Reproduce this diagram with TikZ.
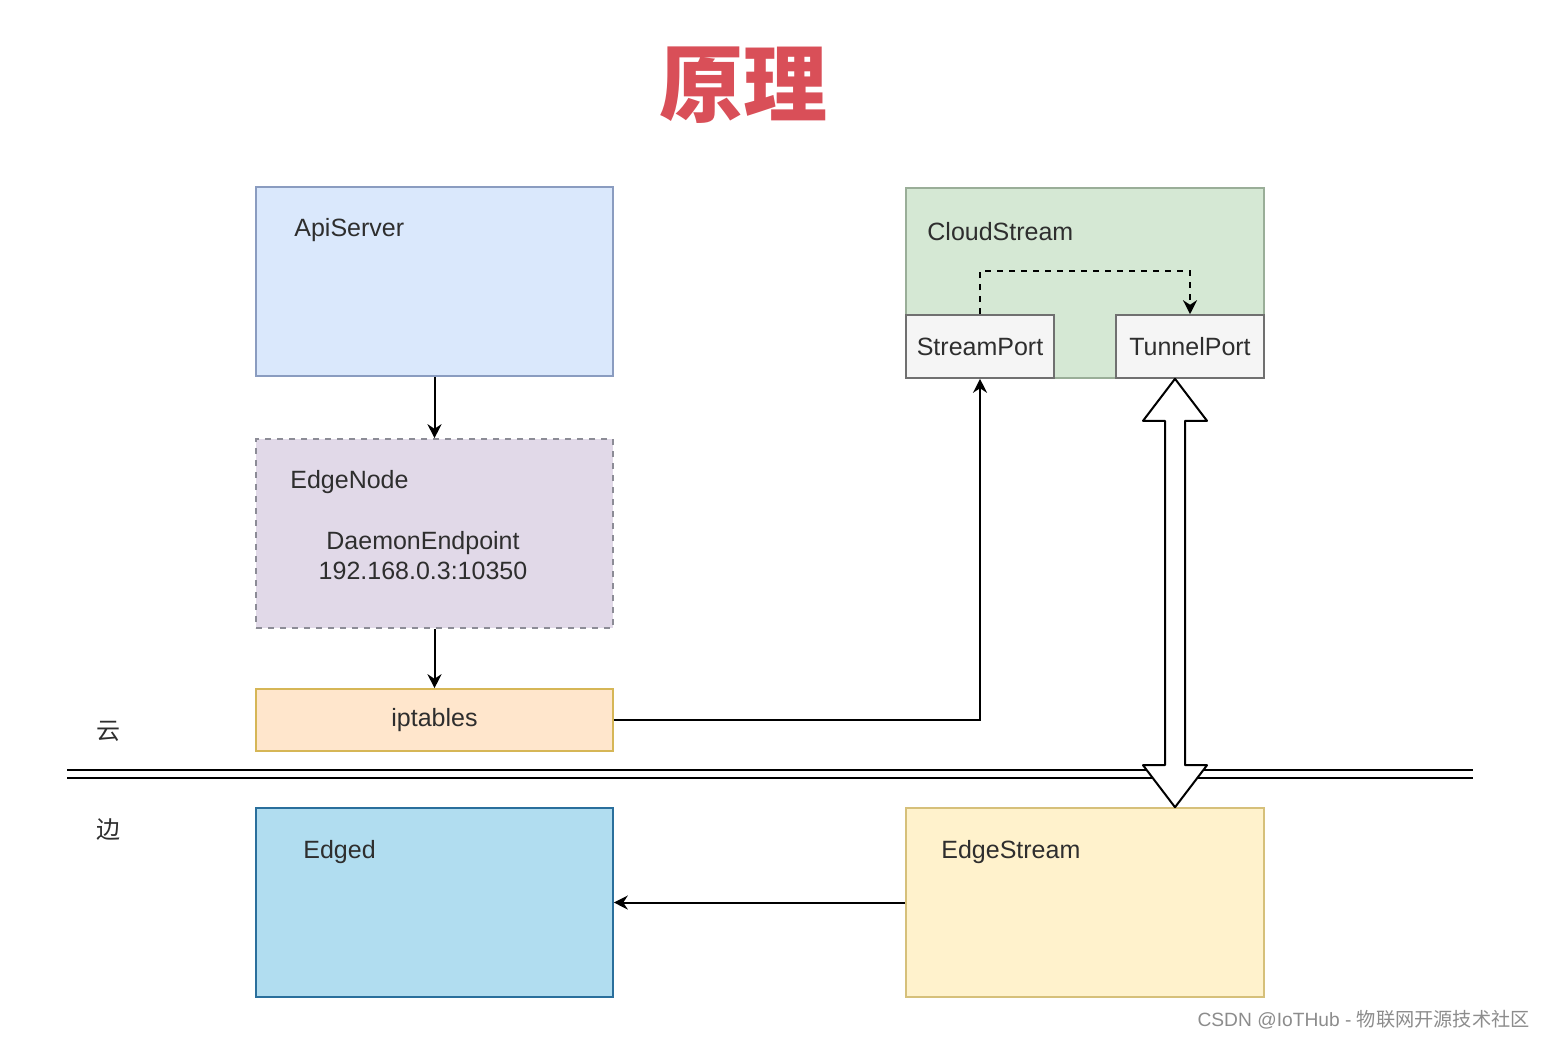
\documentclass[tikz,border=0pt]{standalone}
\usepackage{fontspec}
\setmainfont{Liberation Sans}
\newfontfamily\cjk{Noto Sans CJK SC}
\usetikzlibrary{arrows.meta,calc}
\definecolor{apifill}{HTML}{DAE8FC}\definecolor{apiline}{HTML}{8A9CC0}
\definecolor{nodefill}{HTML}{E1D9E8}\definecolor{nodeline}{HTML}{8C8C96}
\definecolor{iptfill}{HTML}{FFE6CC}\definecolor{iptline}{HTML}{D6B656}
\definecolor{cloudfill}{HTML}{D5E8D4}\definecolor{cloudline}{HTML}{9AAE98}
\definecolor{portfill}{HTML}{F5F5F5}\definecolor{portline}{HTML}{707070}
\definecolor{edgedfill}{HTML}{B1DDF0}\definecolor{edgedline}{HTML}{2A6F9C}
\definecolor{esfill}{HTML}{FFF2CC}\definecolor{esline}{HTML}{D6C07A}
\definecolor{titlered}{HTML}{D94F58}
\definecolor{txt}{HTML}{2E2E2E}
\begin{document}
\begin{tikzpicture}[x=0.5pt, y=-0.5pt, >={Stealth[length=7pt,width=7pt]},
  font=\fontsize{12.5}{15}\selectfont, text=txt,
  box/.style={draw,rectangle,line width=0.8pt,minimum width=178.5pt,minimum height=94.5pt,inner sep=0pt},
  port/.style={draw=portline,fill=portfill,rectangle,line width=0.8pt,minimum width=74pt,minimum height=31.5pt,inner sep=0pt},
  lbl/.style={anchor=west,inner sep=0pt},
  link/.style={line width=1pt},
  flex/.style={draw,fill=white,line width=1pt,line join=round}]
  \useasboundingbox (0,0) rectangle (1545,1039);
  % title
  \node[text=titlered] (ttl) at (743,85) {\fontsize{42}{48}\selectfont\cjk\bfseries 原理};
  % cloud side
  \node[box,fill=apifill,draw=apiline] (api) at (434.5,281.5) {};
  \node[lbl] (apilbl) at (294,230) {ApiServer};
  \node[box,fill=nodefill,draw=nodeline,dashed] (enode) at (434.5,533.5) {};
  \node[lbl] (enodelbl) at (290,482) {EdgeNode};
  \node[align=center,inner sep=0pt] (daemon) at (423,556) {DaemonEndpoint\\192.168.0.3:10350};
  \node[box,fill=iptfill,draw=iptline,minimum height=31pt] (ipt) at (434.5,720) {iptables};
  \node[box,fill=cloudfill,draw=cloudline,minimum width=179pt,minimum height=95pt] (cloud) at (1085,283) {};
  \node[lbl] (cloudlbl) at (927,232) {CloudStream};
  \node[port] (sport) at (980,346.5) {StreamPort};
  \node[port] (tport) at (1190,346.5) {TunnelPort};
  % edge side
  \node[box,fill=edgedfill,draw=edgedline] (edged) at (434.5,902.5) {};
  \node[lbl] (edgedlbl) at (303,852) {Edged};
  \node[box,fill=esfill,draw=esline,minimum width=179pt] (estream) at (1085,902.5) {};
  \node[lbl] (estreamlbl) at (941,852) {EdgeStream};
  % divider
  \node (yun) at (108,731) {\fontsize{12}{14}\selectfont\cjk 云};
  \node (bian) at (108,830) {\fontsize{12}{14}\selectfont\cjk 边};
  \draw[link] (67,770) -- (1473,770);
  \draw[link] (67,778) -- (1473,778);
  % connectors
  \draw[link,->] (api) -- (enode);
  \draw[link,->] (enode) -- (ipt);
  \draw[link,->] (ipt.east) -| (sport.south);
  \draw[link,->,dashed] (sport.north) -- ++(0,-43) -| (tport.north);
  \draw[link,->] (estream.west) -- (edged.east);
  \coordinate (fa) at ($(tport.south)+(-15,0)$);
  \coordinate (fb) at ($(estream.north)+(90,0)$);
  \path[flex] (fa) -- ($(fa)+(32,42)$) -- ($(fa)+(10,42)$) -- ($(fb)+(10,-42)$)
    -- ($(fb)+(32,-42)$) -- (fb) -- ($(fb)+(-32,-42)$) -- ($(fb)+(-10,-42)$)
    -- ($(fa)+(-10,42)$) -- ($(fa)+(-32,42)$) -- cycle;
  % watermark
  \node[anchor=east,inner sep=0pt,text=black!45] (mark) at (1530,1020) {\fontsize{9.6}{12}\selectfont CSDN @IoTHub - {\cjk 物联网开源技术社区}};
\end{tikzpicture}
\end{document}
